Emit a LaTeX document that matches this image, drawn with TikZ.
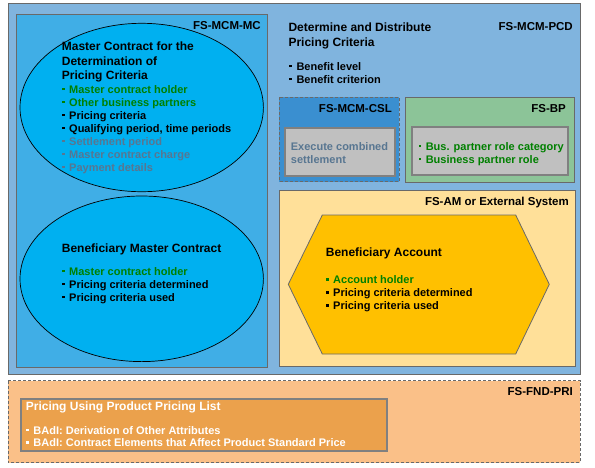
\documentclass[tikz,border=0pt]{standalone}
\usepackage{fontspec}
\setmainfont{Liberation Sans}
\definecolor{outerblue}{RGB}{128,180,222}
\definecolor{mcblue}{RGB}{64,174,230}
\definecolor{ellcyan}{RGB}{0,176,240}
\definecolor{cslblue}{RGB}{58,143,208}
\definecolor{bpgreen}{RGB}{140,196,152}
\definecolor{boxgray}{RGB}{192,192,192}
\definecolor{amyellow}{RGB}{255,224,153}
\definecolor{hexorange}{RGB}{255,192,0}
\definecolor{priorange}{RGB}{250,192,136}
\definecolor{innerorange}{RGB}{235,161,76}
\definecolor{txtgreen}{RGB}{0,128,0}
\definecolor{txtslate}{RGB}{88,118,145}
\definecolor{edgegray}{RGB}{105,105,105}
\definecolor{thickgray}{RGB}{128,128,128}
\newcommand\bsq{\makebox[7.3pt][l]{\raisebox{2.8pt}{\rule{2.6pt}{2.6pt}}}}
\tikzset{
  frame/.style={draw=edgegray, line width=0.8pt},
  dashframe/.style={draw=edgegray, line width=0.8pt, dash pattern=on 3pt off 2pt},
  thickframe/.style={draw=thickgray, line width=2pt},
  lbl/.style={anchor=base east, inner sep=0pt, font=\bfseries\fontsize{11.5}{13}\selectfont},
  ttl/.style={anchor=base west, inner sep=0pt, font=\bfseries\fontsize{12}{14.6}\selectfont},
  itm/.style={anchor=base west, inner sep=0pt, font=\bfseries\fontsize{11}{13}\selectfont},
}
\begin{document}
\begin{tikzpicture}[x=1pt,y=-1pt]
\useasboundingbox (0,0) rectangle (595,467);
% outer boxes
\draw[frame, fill=outerblue] (8.3,3.3) rectangle (580,374);
\draw[frame, fill=mcblue] (16,14.3) rectangle (267.7,367.3);
\draw[black, line width=0.7pt, fill=ellcyan] (141.7,107.5) ellipse [x radius=121.7, y radius=84.2];
\draw[black, line width=0.7pt, fill=ellcyan] (141.7,278.8) ellipse [x radius=121.7, y radius=82.8];
\draw[dashframe, fill=cslblue] (279,97.3) rectangle (399.3,181.7);
\draw[thickframe, fill=boxgray] (285,128.3) rectangle (394.7,175.7);
\draw[frame, fill=bpgreen] (405,97.3) rectangle (574.3,182.3);
\draw[thickframe, fill=boxgray] (412,127) rectangle (568.3,175);
\draw[frame, fill=amyellow] (279.3,190.7) rectangle (575.3,366);
\draw[frame, fill=hexorange] (288.3,284.3) -- (322.3,215) -- (515.7,215) -- (549.3,284.3) -- (515.7,354) -- (322.3,354) -- cycle;
\draw[dashframe, fill=priorange] (8.3,380.7) rectangle (580,462.7);
\draw[thickframe, fill=innerorange] (21,399) rectangle (387,451);

% labels
\node[lbl] (lmc) at (261,29) {FS-MCM-MC};
\node[lbl] (lpcd) at (573,30.5) {FS-MCM-PCD};
\node[lbl] (lcsl) at (392,112.5) {FS-MCM-CSL};
\node[lbl] (lbp) at (566,112.5) {FS-BP};
\node[lbl] (lam) at (569,205.5) {FS-AM or External System};
\node[lbl] (lpri) at (573,395) {FS-FND-PRI};

% master contract ellipse
\node[ttl] (m1) at (61.7,50.5) {Master Contract for the};
\node[ttl] (m2) at (61.7,65.1) {Determination of};
\node[ttl] (m3) at (61.7,79.7) {Pricing Criteria};
\node[itm, txtgreen] (m4) at (61.7,93) {\bsq Master contract holder};
\node[itm, txtgreen] (m5) at (61.7,106) {\bsq Other business partners};
\node[itm] (m6) at (61.7,119) {\bsq Pricing criteria};
\node[itm] (m7) at (61.7,132) {\bsq Qualifying period, time periods};
\node[itm, txtslate] (m8) at (61.7,145) {\bsq Settlement period};
\node[itm, txtslate] (m9) at (61.7,158) {\bsq Master contract charge};
\node[itm, txtslate] (m10) at (61.7,171) {\bsq Payment details};

% beneficiary master contract ellipse
\node[ttl] (b1) at (61.7,252) {Beneficiary Master Contract};
\node[itm, txtgreen] (b2) at (61.7,275) {\bsq Master contract holder};
\node[itm] (b3) at (61.7,288) {\bsq Pricing criteria determined};
\node[itm] (b4) at (61.7,301) {\bsq Pricing criteria used};

% pricing criteria distribution
\node[ttl] (p1) at (288.3,31.5) {Determine and Distribute};
\node[ttl] (p2) at (288.3,46.1) {Pricing Criteria};
\node[itm] (p3) at (289,70) {\bsq Benefit level};
\node[itm] (p4) at (289,83) {\bsq Benefit criterion};

% combined settlement
\node[itm, txtslate] (c1) at (290.7,150.5) {Execute combined};
\node[itm, txtslate] (c2) at (290.7,163.5) {settlement};

% business partner
\node[itm, txtgreen] (bp1) at (418.3,150) {\bsq Bus. partner role category};
\node[itm, txtgreen] (bp2) at (418.3,163) {\bsq Business partner role};

% beneficiary account
\node[ttl] (a1) at (325.7,256) {Beneficiary Account};
\node[itm, txtgreen] (a2) at (325.7,283.3) {\bsq Account holder};
\node[itm] (a3) at (325.7,296.3) {\bsq Pricing criteria determined};
\node[itm] (a4) at (325.7,309.3) {\bsq Pricing criteria used};

% pricing list
\node[ttl, white] (r1) at (25.7,410.5) {Pricing Using Product Pricing List};
\node[itm, white] (r2) at (26,434) {\bsq BAdI: Derivation of Other Attributes};
\node[itm, white] (r3) at (26,446.7) {\bsq BAdI: Contract Elements that Affect Product Standard Price};
\end{tikzpicture}
\end{document}
